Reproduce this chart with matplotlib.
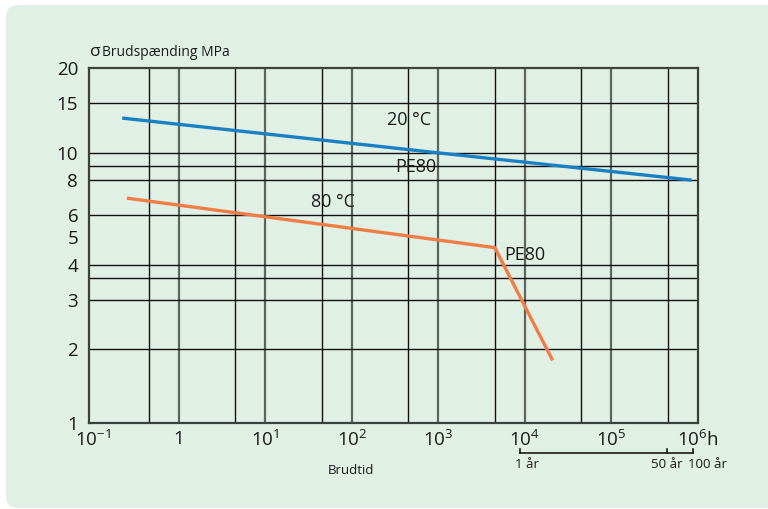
import matplotlib
matplotlib.use('Agg')
import numpy as np
import matplotlib.pyplot as plt
from matplotlib.patches import FancyBboxPatch
import matplotlib.transforms as mtransforms

plt.rcParams['font.family'] = ['Open Sans', 'DejaVu Sans']

# ---- data ----
time_20C = [0.22, 1e3, 8.5e5]
stress_20C = [13.3, 10.0, 8.0]
time_80C = [0.25, 4500, 2.1e4]
stress_80C = [6.9, 4.6, 1.8]

x_ticks = [0.1, 1, 10, 1e2, 1e3, 1e4, 1e5, 1e6]
x_ticklabels = [r'$\mathregular{10^{-1}}$', '1', r'$\mathregular{10^{1}}$',
                r'$\mathregular{10^{2}}$', r'$\mathregular{10^{3}}$',
                r'$\mathregular{10^{4}}$', r'$\mathregular{10^{5}}$',
                r'$\mathregular{10^{6}}$h']
x_major_grid = [1, 10, 1e2, 1e3, 1e4, 1e5]
x_minor_grid = [0.45, 4.5, 45, 450, 4500, 45000, 450000]
y_ticks = [1, 2, 3, 4, 5, 6, 8, 10, 15, 20]
y_ticklabels = ['1', '2', '3', '4', '5', '6', '8', '10', '15', '20']
y_grid = [2, 3, 3.6, 4, 6, 8, 9, 10, 15]
years = [1, 50, 100]
year_labels = ['1 år', '50 år', '100 år']
hours_per_year = 8760

BG = '#e1f0e5'
BLUE = '#1a80c4'
ORANGE = '#ef7d45'

# log axis whose 1-2 octave is drawn slightly compressed, as in the original
Y_BREAK = 2.0
K_LOW = 0.868


def y_fwd(y):
    y = np.clip(np.asarray(y, dtype=float), 1e-6, None)
    ly = np.log10(y)
    lb = np.log10(Y_BREAK)
    return np.where(y >= Y_BREAK, ly, lb - K_LOW * (lb - ly))


def y_inv(v):
    v = np.asarray(v, dtype=float)
    lb = np.log10(Y_BREAK)
    return np.where(v >= lb, 10 ** v, 10 ** (lb - (lb - v) / K_LOW))


fig = plt.figure(figsize=(7.68, 5.09), dpi=100)
fig.patch.set_facecolor('white')
panel = FancyBboxPatch((0.06, 0.01), 7.8, 5.03,
                       boxstyle='round,pad=0,rounding_size=0.12',
                       transform=fig.dpi_scale_trans, facecolor=BG,
                       edgecolor='none', zorder=-10)
fig.patches.append(panel)

ax = fig.add_axes([89.3 / 768, 1 - 422.7 / 509, (697.7 - 89.3) / 768, (422.7 - 68.3) / 509])
ax.set_zorder(1)
ax.set_facecolor(BG)
ax.set_xscale('log')
ax.set_yscale('function', functions=(y_fwd, y_inv))
ax.set_xlim(10 ** -1.038, 1e6)
ax.set_ylim(1, 20)

for xv in x_major_grid:
    ax.axvline(xv, color='#5a655e', lw=1.6, zorder=1)
for xv in x_minor_grid:
    ax.axvline(xv, color='#111111', lw=1.0, zorder=1)
for yv in y_grid:
    ax.axhline(yv, color='#111111', lw=1.0, zorder=1)

ax.plot(time_20C, stress_20C, color=BLUE, lw=2.4, zorder=3, solid_capstyle='butt')
ax.plot(time_80C, stress_80C, color=ORANGE, lw=2.4, zorder=3, solid_capstyle='butt')

ax.set_xticks(x_ticks)
ax.set_xticklabels(x_ticklabels)
ax.set_yticks(y_ticks)
ax.set_yticklabels(y_ticklabels)
ax.minorticks_off()
ax.tick_params(axis='both', length=0, labelsize=13.5, colors='#1a1a1a')
ax.tick_params(axis='x', pad=5)
ax.tick_params(axis='y', pad=8)
for s in ax.spines.values():
    s.set_color('#3a423d')
    s.set_linewidth(1.6)
    s.set_zorder(4)

# annotations
ax.text(252, 13.1, '20 °C', fontsize=13, va='center', ha='left', color='#1a1a1a')
ax.text(315, 8.9, 'PE80', fontsize=13, va='center', ha='left', color='#1a1a1a')
ax.text(33.6, 6.68, '80 °C', fontsize=13, va='center', ha='left', color='#1a1a1a')
ax.text(5780, 4.33, 'PE80', fontsize=13, va='center', ha='left', color='#1a1a1a')

# year bracket below the x axis
trans = mtransforms.blended_transform_factory(ax.transData, ax.transAxes)
yr_hours = [y * hours_per_year for y in years]
ax.plot([yr_hours[0], yr_hours[-1]], [-0.0863, -0.0863], transform=trans,
        color='#1a1a1a', lw=1.2, clip_on=False)
for h in yr_hours:
    ax.plot([h, h], [-0.0863, -0.0735], transform=trans, color='#1a1a1a',
            lw=1.2, clip_on=False)
offsets = [-5, 0, -5]
aligns = ['left', 'center', 'left']
for h, lab, off, al in zip(yr_hours, year_labels, offsets, aligns):
    ax.annotate(lab, xy=(h, -0.117), xycoords=trans, xytext=(off, 0),
                textcoords='offset pixels', ha=al, va='center',
                fontsize=9.5, color='#1a1a1a', annotation_clip=False)

fig.text(90 / 768, 1 - 52 / 509, 'σ', ha='left', va='center',
         fontsize=12.5, color='#1a1a1a')
fig.text(102 / 768, 1 - 52 / 509, 'Brudspænding MPa', ha='left', va='center',
         fontsize=10, color='#1a1a1a')
fig.text(351 / 768, 1 - 471 / 509, 'Brudtid', ha='center', va='center',
         fontsize=9.5, color='#1a1a1a')

fig.savefig('out.png', dpi=100, facecolor=fig.get_facecolor())
